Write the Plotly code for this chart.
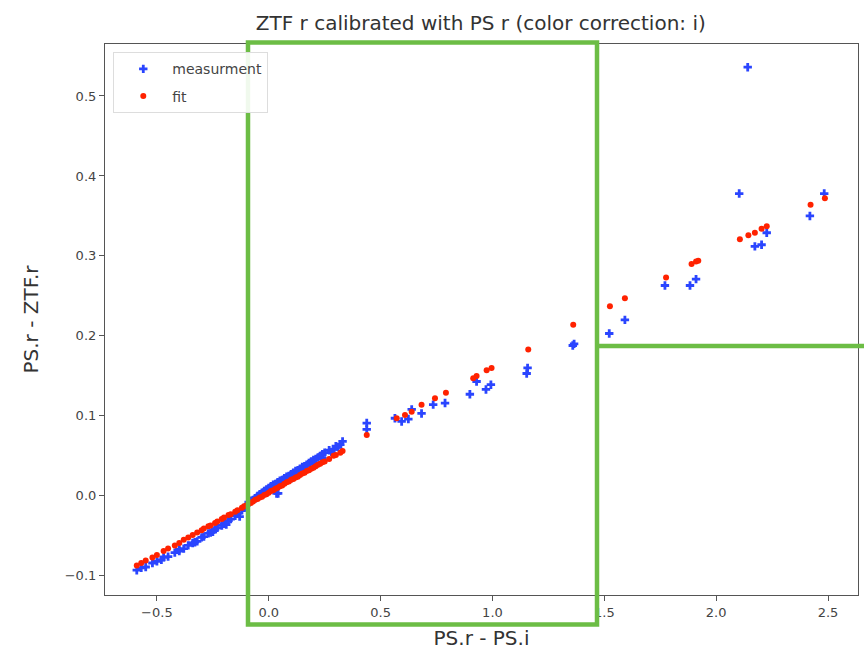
import plotly.graph_objects as go

# ---- data ----
meas_x = [-0.59, -0.57, -0.55, -0.52, -0.50, -0.47, -0.45, -0.42, -0.40, -0.38,
          -0.36, -0.34, -0.32, -0.30, -0.29, -0.27, -0.26, -0.24, -0.23, -0.21,
          -0.20, -0.18, -0.17, -0.15, -0.14, -0.12, -0.11, -0.10, -0.09, -0.08,
          -0.07, -0.06, -0.05, -0.04, -0.03, -0.02, -0.01, 0.00, 0.01, 0.02,
          0.03, 0.04, 0.05, 0.06, 0.07, 0.08, 0.09, 0.10, 0.11, 0.12,
          0.13, 0.14, 0.15, 0.16, 0.17, 0.18, 0.19, 0.20, 0.21, 0.22,
          0.23, 0.24, 0.25, 0.27, 0.29, 0.30, 0.32, 0.33,
          0.035, 0.042, 0.05, 0.10, 0.15, 0.20, 0.24, 0.28, 0.31,
          -0.48, -0.40, -0.33, -0.25, -0.19, -0.13,
          0.438, 0.438, 0.564, 0.594, 0.624, 0.639, 0.683, 0.735, 0.788, 0.899,
          0.929, 0.971, 0.993, 1.153, 1.157, 1.359, 1.365, 1.522, 1.592, 1.771,
          1.883, 1.910, 2.103, 2.141, 2.173, 2.203, 2.226, 2.419, 2.483]
meas_y = [-0.093, -0.090, -0.089, -0.084, -0.082, -0.077, -0.076, -0.071, -0.069, -0.066,
          -0.062, -0.059, -0.057, -0.052, -0.051, -0.047, -0.046, -0.042, -0.040, -0.037,
          -0.035, -0.031, -0.029, -0.025, -0.022, -0.018, -0.015, -0.012, -0.008, -0.006,
          -0.005, -0.003, 0.000, 0.002, 0.004, 0.006, 0.008, 0.010, 0.012, 0.014,
          0.015, 0.017, 0.019, 0.020, 0.022, 0.024, 0.025, 0.027, 0.029, 0.031,
          0.032, 0.034, 0.036, 0.037, 0.039, 0.041, 0.043, 0.045, 0.046, 0.048,
          0.050, 0.052, 0.054, 0.057, 0.058, 0.062, 0.064, 0.068,
          0.003, 0.003, 0.014, 0.022, 0.031, 0.040, 0.047, 0.055, 0.061,
          -0.080, -0.067, -0.058, -0.045, -0.036, -0.026,
          0.091, 0.083, 0.097, 0.093, 0.096, 0.108, 0.103, 0.114, 0.116, 0.127,
          0.143, 0.133, 0.139, 0.153, 0.160, 0.188, 0.190, 0.203, 0.220, 0.263,
          0.263, 0.271, 0.378, 0.536, 0.312, 0.314, 0.329, 0.350, 0.378]

fit_x = [-0.59, -0.57, -0.55, -0.52, -0.50, -0.47, -0.45, -0.42, -0.40, -0.38,
         -0.36, -0.34, -0.32, -0.30, -0.29, -0.27, -0.26, -0.24, -0.23, -0.21,
         -0.20, -0.18, -0.17, -0.15, -0.14, -0.12, -0.11, -0.10, -0.09, -0.08,
         -0.07, -0.06, -0.05, -0.04, -0.03, -0.02, -0.01, 0.00, 0.01, 0.02,
         0.03, 0.04, 0.05, 0.06, 0.07, 0.08, 0.09, 0.10, 0.11, 0.12,
         0.13, 0.14, 0.15, 0.16, 0.17, 0.18, 0.19, 0.20, 0.21, 0.22,
         0.23, 0.24, 0.25, 0.27, 0.29, 0.30, 0.32, 0.33,
         0.438, 0.572, 0.609, 0.639, 0.683, 0.743, 0.792, 0.914, 0.929, 0.974,
         0.996, 1.160, 1.361, 1.525, 1.592, 1.776, 1.890, 1.910, 1.920, 2.106,
         2.144, 2.173, 2.203, 2.226, 2.422, 2.486]
fit_y = [-0.087, -0.084, -0.081, -0.077, -0.074, -0.069, -0.066, -0.062, -0.059, -0.055,
         -0.052, -0.049, -0.046, -0.043, -0.041, -0.038, -0.037, -0.034, -0.032, -0.029,
         -0.027, -0.024, -0.023, -0.020, -0.018, -0.015, -0.013, -0.012, -0.010, -0.009,
         -0.007, -0.005, -0.004, -0.002, -0.001, 0.001, 0.002, 0.004, 0.006, 0.007,
         0.009, 0.010, 0.012, 0.013, 0.015, 0.017, 0.018, 0.020, 0.021, 0.023,
         0.024, 0.026, 0.028, 0.029, 0.031, 0.032, 0.034, 0.035, 0.037, 0.039,
         0.040, 0.042, 0.043, 0.046, 0.050, 0.051, 0.054, 0.056,
         0.076, 0.097, 0.101, 0.105, 0.114, 0.122, 0.129, 0.147, 0.150, 0.157,
         0.160, 0.183, 0.214, 0.237, 0.247, 0.273, 0.290, 0.293, 0.294, 0.321,
         0.326, 0.329, 0.334, 0.337, 0.364, 0.372]

x_ticks = [-0.5, 0.0, 0.5, 1.0, 1.5, 2.0, 2.5]
y_ticks = [-0.1, 0.0, 0.1, 0.2, 0.3, 0.4, 0.5]

fig = go.Figure()
fig.add_trace(go.Scatter(
    x=meas_x, y=meas_y, mode="markers", name="measurment", legendgroup="m",
    marker=dict(symbol="cross", size=7, color="#2a45ff", line=dict(width=0))))
fig.add_trace(go.Scatter(
    x=fit_x, y=fit_y, mode="markers", name="fit", legendgroup="f",
    marker=dict(symbol="circle", size=6, color="#ff2200", line=dict(width=0))))

axis_common = dict(showgrid=False, zeroline=False, showline=True, mirror=True,
                   linecolor="#555555", linewidth=1.2, ticks="outside", ticklen=5,
                   tickcolor="#555555", tickfont=dict(family="DejaVu Sans", size=13, color="#444444"))

fig.update_xaxes(range=[-0.732, 2.634], tickvals=x_ticks,
                 ticktext=[f"{v:.1f}".replace("-", "\u2212") for v in x_ticks],
                 title=dict(text="PS.r - PS.i", font=dict(family="DejaVu Sans", size=20, color="#333333"),
                            standoff=12),
                 **axis_common)
fig.update_yaxes(range=[-0.124, 0.565], tickvals=y_ticks,
                 ticktext=[f"{v:.1f}".replace("-", "\u2212") for v in y_ticks],
                 title=dict(text="PS.r - ZTF.r", font=dict(family="DejaVu Sans", size=20, color="#333333"),
                            standoff=20),
                 **axis_common)

green = "#6cbd45"
fig.update_layout(
    width=864, height=660,
    margin=dict(l=105, r=6, t=44, b=65),
    paper_bgcolor="white", plot_bgcolor="white",
    title=dict(text="ZTF r calibrated with PS r (color correction: i)",
               x=0.5565, xanchor="center", y=0.965, yanchor="middle",
               font=dict(family="DejaVu Sans", size=20, color="#333333")),
    legend=dict(x=0.011, y=0.985, xanchor="left", yanchor="top",
                bgcolor="rgba(255,255,255,0.9)", bordercolor="#dddddd", borderwidth=1,
                font=dict(family="DejaVu Sans", size=14, color="#444444"),
                itemsizing="trace", tracegroupgap=6, itemwidth=48),
    shapes=[
        dict(type="rect", xref="paper", yref="paper", x0=0.1899, x1=0.6534, y0=-0.0535, y1=1.0027,
             line=dict(color=green, width=4.5), fillcolor="rgba(0,0,0,0)", layer="above"),
        dict(type="line", xref="paper", yref="paper", x0=0.6534, x1=1.01, y0=0.4519, y1=0.4519,
             line=dict(color=green, width=4.5), layer="above"),
    ],
)

fig.write_html("out.html", config={"displayModeBar": False},
               post_script="document.body.style.margin='0';")
